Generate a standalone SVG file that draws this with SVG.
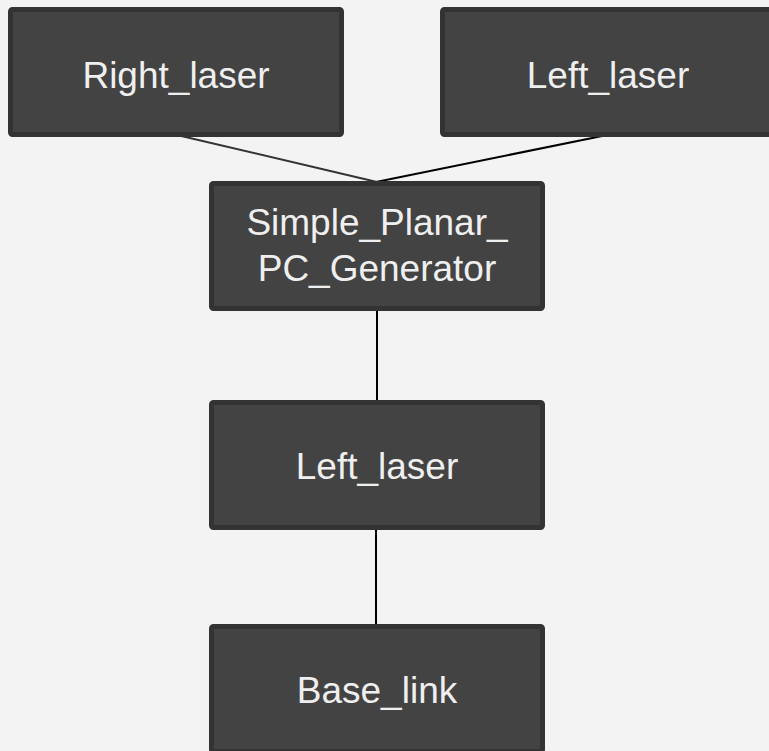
<svg xmlns="http://www.w3.org/2000/svg" width="769" height="751" viewBox="0 0 769 751">
<style>
.box{fill:#434343;stroke:#333333;stroke-width:5}
.lbl{font-family:"Liberation Sans",Arial,sans-serif;font-size:37px;fill:#efefef;text-anchor:middle}
.c{fill:none;stroke-width:2;stroke-linecap:butt}
</style>
<rect width="769" height="751" fill="#f3f3f3"/>
<g id="connectors">
<line class="c" x1="177" y1="135" x2="377" y2="182" stroke="#333333"/>
<line class="c" x1="607" y1="135" x2="376" y2="182" stroke="#000000"/>
<line class="c" x1="377" y1="310" x2="377" y2="400" stroke="#000000"/>
<line class="c" x1="376" y1="529" x2="376" y2="624" stroke="#000000"/>
</g>
<g id="right_laser">
<rect class="box" x="10.5" y="9.5" width="331" height="125" rx="2"/>
<text class="lbl" x="176" y="88">Right_laser</text>
</g>
<g id="left_laser_top">
<rect class="box" x="442.5" y="9.5" width="331" height="125" rx="2"/>
<text class="lbl" x="608" y="88">Left_laser</text>
</g>
<g id="simple_planar">
<rect class="box" x="211.5" y="183.5" width="331" height="125" rx="2"/>
<text class="lbl" x="377" y="235">Simple_Planar_</text>
<text class="lbl" x="377" y="281">PC_Generator</text>
</g>
<g id="left_laser_mid">
<rect class="box" x="211.5" y="402.5" width="331" height="125" rx="2"/>
<text class="lbl" x="377" y="479">Left_laser</text>
</g>
<g id="base_link">
<rect class="box" x="211.5" y="626.5" width="331" height="125" rx="2"/>
<text class="lbl" x="377" y="703">Base_link</text>
</g>
</svg>
